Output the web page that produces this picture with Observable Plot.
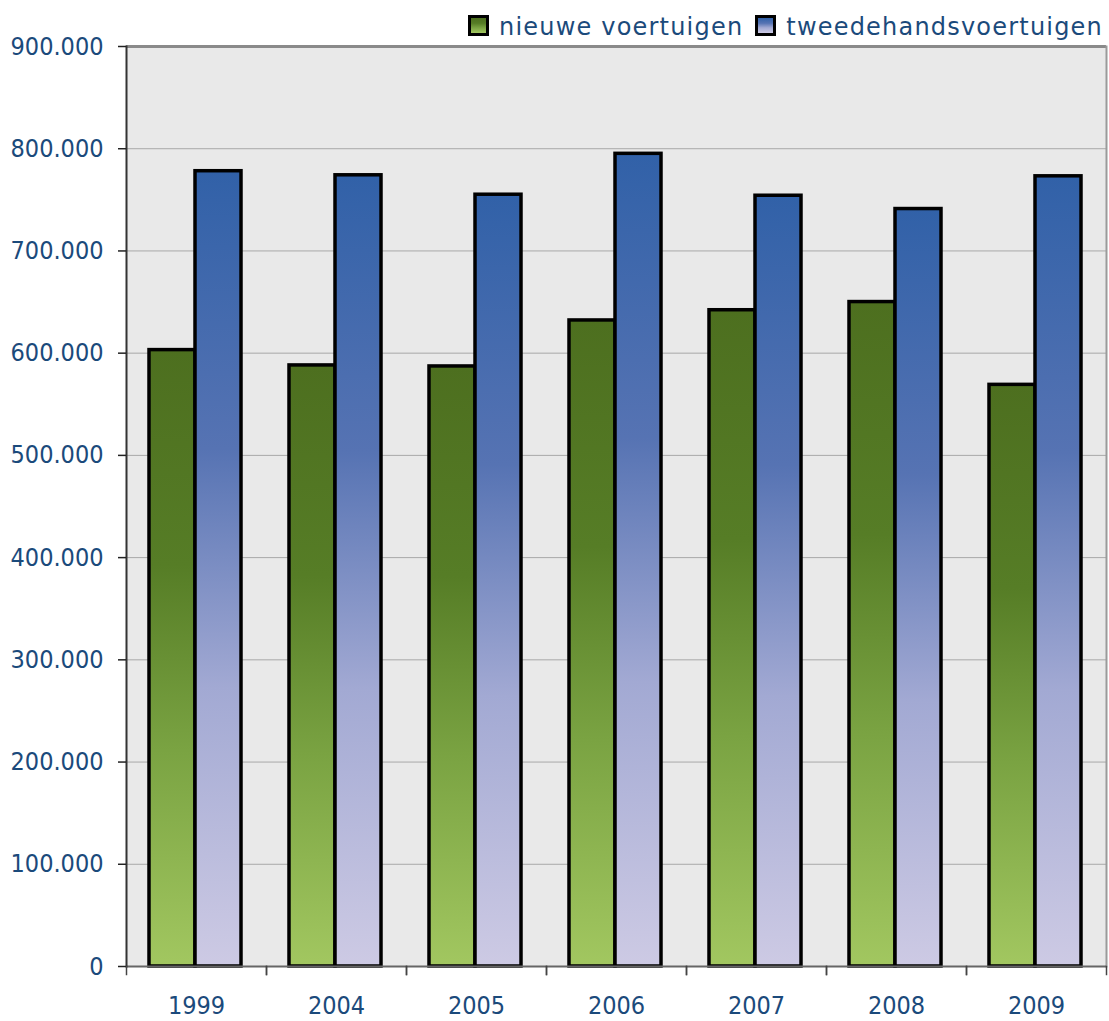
<!DOCTYPE html>
<html><head><meta charset="utf-8">
<script src="https://cdn.jsdelivr.net/npm/d3@7"></script>
<script src="https://cdn.jsdelivr.net/npm/@observablehq/plot@0.6"></script>
<style>
body{margin:0;background:#fff;}
#wrap{position:relative;width:1109px;height:1021px;}
#legend{position:absolute;top:13px;left:468px;display:flex;align-items:center;font-family:"DejaVu Sans";font-size:24px;line-height:28px;letter-spacing:1.2px;color:#1b4a7b;background:#fff;white-space:nowrap;}
.sw{width:15px;height:15px;border:3px solid #000;margin-right:10px;margin-top:-3px;}
.item{display:flex;align-items:center;margin-right:12px;}
</style></head><body>
<div id="wrap"><div id="legend"></div></div>
<script>
const years = ["1999","2004","2005","2006","2007","2008","2009"];
const series = ["nieuwe voertuigen","tweedehandsvoertuigen"];
const nieuwe = [603000,588000,587000,632000,642000,650000,569000];
const tweedehands = [778000,774000,755000,795000,754000,741000,773000];
const yTicks = [0,100000,200000,300000,400000,500000,600000,700000,800000,900000];

const rows = years.flatMap((y,i)=>[
  {year:y, series:series[0], value:nieuwe[i]},
  {year:y, series:series[1], value:tweedehands[i]}
]);
const fmt = d => d3.format(",.0f")(d).replace(/,/g,".");
const textColor = "#1b4a7b";
const numFont = "DejaVu Sans Condensed";

const chart = Plot.plot({
  width:1109, height:1021,
  marginLeft:124, marginRight:2, marginTop:46, marginBottom:55,
  style:{fontFamily:numFont, fontSize:"25px", background:"transparent"},
  fx:{domain:years, padding:0, label:null, axis:null},
  x:{domain:series, paddingInner:0, paddingOuter:0.52, align:0.48, axis:null},
  y:{domain:[0,900000], axis:null},
  marks:[
    Plot.frame({fill:"#e9e9e9", stroke:null, shapeRendering:"crispEdges"}),
    Plot.gridY(yTicks, {stroke:"#a8a8a8", strokeOpacity:1, strokeWidth:1}),
    Plot.ruleY([900000], {stroke:"#8a8a8a", strokeWidth:3}),
    Plot.frame({anchor:"right", facetAnchor:"right", stroke:"#9a9a9a", strokeWidth:2}),
    Plot.barY(rows.filter(d=>d.series===series[0]), {fx:"year", x:"series", y:"value", fill:"url(#gGreen)", stroke:"#000", strokeWidth:3.5}),
    Plot.barY(rows.filter(d=>d.series===series[1]), {fx:"year", x:"series", y:"value", fill:"url(#gBlue)", stroke:"#000", strokeWidth:3.5}),
    Plot.ruleY([0], {stroke:"#666", strokeWidth:2}),
    Plot.frame({anchor:"left", facetAnchor:"left", stroke:"#333", strokeWidth:2}),
    Plot.frame({anchor:"left", insetTop:920, insetBottom:-8, stroke:"#444", strokeWidth:1.5}),
    Plot.frame({anchor:"right", insetTop:920, insetBottom:-8, stroke:"#444", strokeWidth:1.5}),
    Plot.axisY(yTicks, {tickSize:8, tickPadding:15, tickFormat:fmt, fontSize:25, fontFamily:numFont, fill:textColor, stroke:"#222", strokeWidth:1.5, label:null}),
    Plot.axisFx({anchor:"bottom", tickSize:0, tickPadding:30, fontSize:25, fontFamily:numFont, fill:textColor, label:null})
  ]
});

const svg = d3.select(chart);
const defs = svg.insert("defs", ":first-child");
function grad(id, stops){
  const g = defs.append("linearGradient").attr("id",id).attr("x1",0).attr("y1",0).attr("x2",0).attr("y2",1);
  stops.forEach(([o,c])=>g.append("stop").attr("offset",o).attr("stop-color",c));
}
const greenStops = [[0,"#4d6f1f"],[0.35,"#567d26"],[0.65,"#7aa342"],[1,"#a2c760"]];
const blueStops = [[0,"#3161a8"],[0.35,"#5673b3"],[0.65,"#a2a9d3"],[1,"#cdcae4"]];
grad("gGreen", greenStops);
grad("gBlue", blueStops);
document.getElementById("wrap").prepend(chart);

const legend = d3.select("#legend");
[[series[0], greenStops],[series[1], blueStops]].forEach(([name, stops])=>{
  const it = legend.append("div").attr("class","item");
  it.append("div").attr("class","sw")
    .style("background", `linear-gradient(${stops.map(([o,c])=>`${c} ${o*100}%`).join(",")})`);
  it.append("span").text(name);
});
</script>
</body></html>
